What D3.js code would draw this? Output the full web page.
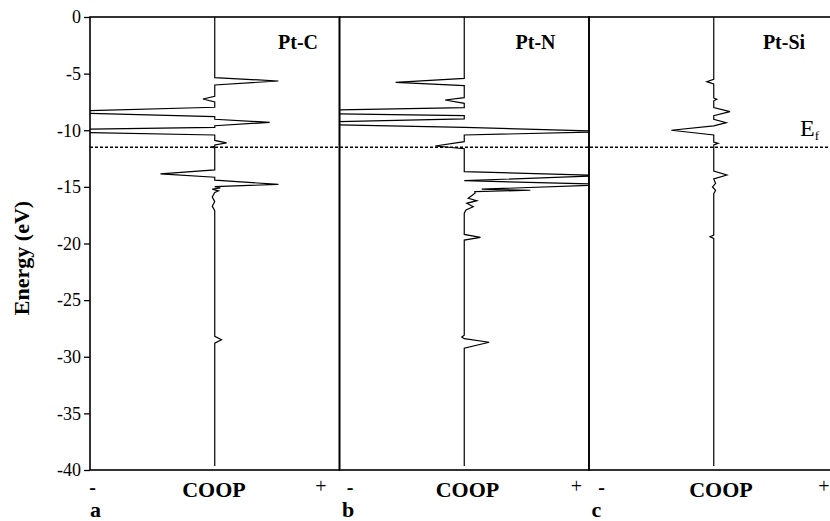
<!DOCTYPE html>
<html>
<head>
<meta charset="utf-8">
<script src="https://cdn.jsdelivr.net/npm/d3@7"></script>
<style>
  body { margin: 0; background: #fff; }
</style>
</head>
<body>
<svg id="chart" width="830" height="521"></svg>
<script>
// energy axis (eV)
var energyTicks = [0, -5, -10, -15, -20, -25, -30, -35, -40];
var fermiLevel = -11.5;

var panelNames = ["Pt-C", "Pt-N", "Pt-Si"];
var panelLetters = ["a", "b", "c"];

// COOP curves, [energy, coop] (coop in arbitrary units, +-1 = panel edge)
var coopPtC = [
  [0, 0], [-5.35, 0], [-5.65, 0.51], [-6.0, 0],
  [-7.0, 0], [-7.24, -0.095], [-7.5, 0],
  [-7.97, 0], [-8.39, -1.4], [-8.8, 0],
  [-9.03, 0], [-9.3, 0.44], [-9.6, 0],
  [-9.74, 0], [-10.03, -1.8], [-10.42, 0],
  [-10.9, 0], [-11.12, 0.095], [-11.3, 0],
  [-11.42, 0], [-11.48, -0.03], [-11.55, 0],
  [-13.5, 0], [-13.86, -0.435], [-14.15, 0],
  [-14.4, 0], [-14.78, 0.51], [-14.98, 0],
  [-15.1, 0.045], [-15.2, -0.02], [-15.35, 0.03], [-15.5, 0],
  [-15.9, -0.02], [-16.3, 0], [-16.7, -0.02], [-17.1, 0],
  [-28.2, 0], [-28.5, 0.054], [-28.8, 0],
  [-39.65, 0]
];

var coopPtN = [
  [0, 0], [-5.42, 0], [-5.77, -0.55], [-6.06, 0],
  [-7.12, 0], [-7.33, -0.153], [-7.62, 0],
  [-8.0, 0], [-8.39, -2.0], [-8.71, 0],
  [-9.0, 0], [-9.39, -1.7], [-9.74, 0],
  [-10.12, 1.2], [-10.42, 0],
  [-11.01, 0], [-11.39, -0.233], [-11.63, 0],
  [-13.66, 0], [-14.0, 1.15], [-14.45, 0],
  [-14.8, 1.2], [-15.2, 0.14], [-15.3, 0.53], [-15.42, 0.085],
  [-15.57, 0.086], [-16.01, 0.032], [-16.22, 0.1], [-16.45, 0.02],
  [-16.75, 0.072], [-17.04, 0.014], [-17.33, 0],
  [-19.2, 0], [-19.46, 0.13], [-19.7, 0],
  [-28.1, 0], [-28.25, -0.02], [-28.4, 0], [-28.72, 0.2], [-29.25, 0],
  [-39.65, 0]
];

var coopPtSi = [
  [0, 0], [-5.5, 0], [-5.71, -0.056], [-5.92, 0],
  [-7.15, 0], [-7.27, 0.024], [-7.4, 0],
  [-8.0, 0], [-8.36, 0.13], [-8.72, 0],
  [-9.03, 0], [-9.33, 0.1], [-9.62, 0], [-10.0, -0.34], [-10.42, 0],
  [-11.05, 0], [-11.16, 0.035], [-11.3, 0],
  [-13.6, 0], [-13.95, 0.105], [-14.3, 0],
  [-14.7, 0.015], [-15.0, -0.01], [-15.3, 0.015], [-15.6, 0],
  [-19.25, 0], [-19.4, -0.03], [-19.55, 0],
  [-39.65, 0]
];

var curves = [coopPtC, coopPtN, coopPtSi];

// layout
var serif = "'Liberation Serif', 'Times New Roman', 'DejaVu Serif', serif";
var plotLeft = 90, plotTop = 17, plotBottom = 470, panelW = 249.5;
// per panel text offsets from panel left: name, COOP, minus, plus, letter
var textPos = [
  { name: 208, coop: 124, minus: 2.5, plus: 231, letter: 0 },
  { name: 196, coop: 128, minus: 10.5, plus: 237, letter: 2.5 },
  { name: 195, coop: 132, minus: 12.5, plus: 235, letter: 2.5 }
];

var svg = d3.select("#chart")
  .style("font-family", serif);

var y = d3.scaleLinear().domain([0, -40]).range([plotTop, plotBottom]);

var defs = svg.append("defs");

function label(x, yPos, size, bold, txt) {
  return svg.append("text")
    .attr("x", x).attr("y", yPos)
    .style("font-family", serif)
    .style("font-size", size + "px")
    .style("font-weight", bold ? "bold" : "normal")
    .style("fill", "#000")
    .text(txt);
}

panelNames.forEach(function (name, i) {
  var x0 = plotLeft + i * panelW;
  var x = d3.scaleLinear().domain([-1, 1]).range([x0, x0 + panelW]);

  defs.append("clipPath").attr("id", "clip" + i)
    .append("rect")
    .attr("x", x0).attr("y", plotTop)
    .attr("width", panelW).attr("height", plotBottom - plotTop);

  var line = d3.line()
    .x(function (d) { return x(d[1]); })
    .y(function (d) { return y(d[0]); });

  svg.append("path")
    .datum(curves[i])
    .attr("clip-path", "url(#clip" + i + ")")
    .attr("d", line)
    .attr("fill", "none")
    .attr("stroke", "#000")
    .attr("stroke-width", 1.2);

  svg.append("rect")
    .attr("x", x0).attr("y", plotTop)
    .attr("width", panelW).attr("height", plotBottom - plotTop)
    .attr("fill", "none")
    .attr("stroke", "#000")
    .attr("stroke-width", 1.6);

  var p = textPos[i];
  label(x0 + p.name, 48.5, 20, true, name).attr("text-anchor", "middle");
  label(x0 + p.coop, 496.5, 22, true, "COOP").attr("text-anchor", "middle");
  label(x0 + p.minus, 494, 20, true, "-").attr("text-anchor", "middle");
  label(x0 + p.plus, 493, 20, false, "+").attr("text-anchor", "middle");
  label(x0 + p.letter, 517, 22, true, panelLetters[i]);
});

// fermi level
svg.append("line")
  .attr("x1", plotLeft).attr("x2", 830)
  .attr("y1", y(fermiLevel)).attr("y2", y(fermiLevel))
  .attr("stroke", "#000")
  .attr("stroke-width", 1.4)
  .attr("stroke-dasharray", "3,2");

var ef = label(800, 136, 24, false, "");
ef.append("tspan").text("E");
ef.append("tspan").style("font-size", "13px").attr("dy", 4).text("f");

// energy axis
var axis = svg.append("g")
  .attr("transform", "translate(" + plotLeft + ",0)")
  .call(d3.axisLeft(y).tickValues(energyTicks).tickSize(6).tickPadding(3)
    .tickFormat(function (d) { return d; }));
axis.select(".domain").remove();
axis.selectAll("line").attr("stroke", "#000").attr("stroke-width", 1.3);
axis.selectAll("text")
  .style("font-family", serif)
  .style("font-size", "18px")
  .style("fill", "#000");

label(0, 0, 22, true, "Energy (eV)")
  .attr("transform", "translate(28.5,258) rotate(-90)")
  .attr("text-anchor", "middle");
</script>
</body>
</html>
